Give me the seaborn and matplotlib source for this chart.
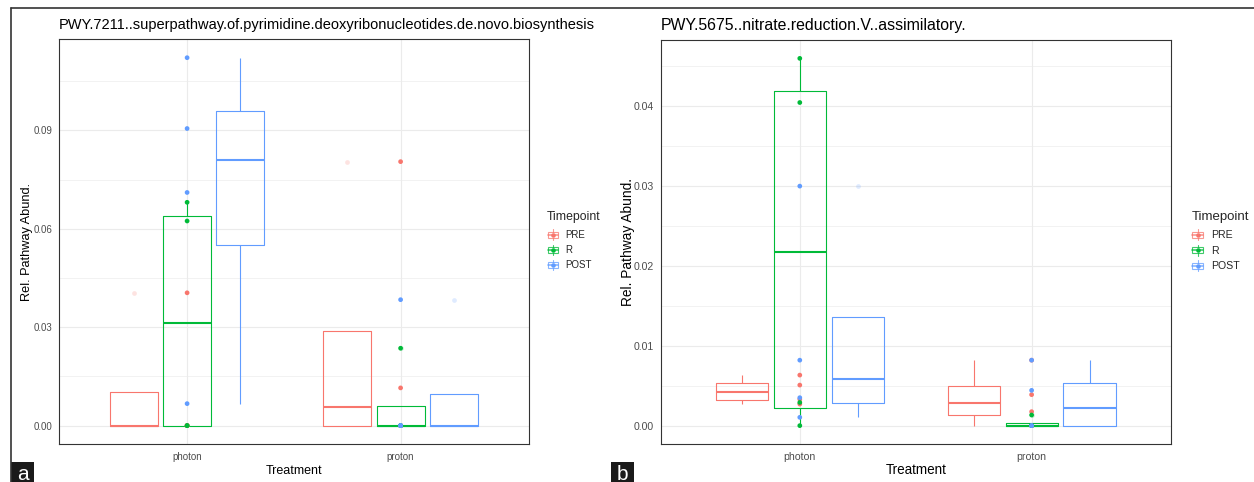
import numpy as np
import pandas as pd
import matplotlib
matplotlib.use("Agg")
import matplotlib.pyplot as plt
import seaborn as sns
from matplotlib.lines import Line2D
from matplotlib.patches import Rectangle
from matplotlib.legend_handler import HandlerBase
from matplotlib.ticker import MultipleLocator

# ---------------- data ----------------
treatments = ["photon", "proton"]
timepoints = ["PRE", "R", "POST"]
palette = ["#F8766D", "#00BA38", "#619CFF"]

title_a = "PWY.7211..superpathway.of.pyrimidine.deoxyribonucleotides.de.novo.biosynthesis"
a_photon_pre = [0.0, 0.0, 0.0, 0.0405]
a_photon_r = [0.0, 0.0, 0.0624, 0.0681]
a_photon_post = [0.0067, 0.0711, 0.0906, 0.1122]
a_proton_pre = [0.0, 0.0, 0.0115, 0.0805]
a_proton_r = [0.0, 0.0, 0.0, 0.0236]
a_proton_post = [0.0, 0.0, 0.0, 0.0384]
yticks_a = [0.00, 0.03, 0.06, 0.09]

title_b = "PWY.5675..nitrate.reduction.V..assimilatory."
b_photon_pre = [0.0027, 0.0033, 0.00508, 0.00633]
b_photon_r = [0.0, 0.0029, 0.04047, 0.0460]
b_photon_post = [0.00104, 0.0035, 0.0082, 0.0300]
b_proton_pre = [0.0, 0.00175, 0.00388, 0.0082]
b_proton_r = [0.0, 0.0, 0.0, 0.00133]
b_proton_post = [0.0, 0.0, 0.00442, 0.0082]
yticks_b = [0.00, 0.01, 0.02, 0.03, 0.04]

panel_letters = ["a", "b"]
x_label = "Treatment"
y_label = "Rel. Pathway Abund."
legend_title = "Timepoint"


def make_df(groups):
    rows = []
    for (trt, tp), vals in groups.items():
        for v in vals:
            rows.append({"Treatment": trt, "Timepoint": tp, "Abund": v})
    return pd.DataFrame(rows)


df_a = make_df({
    ("photon", "PRE"): a_photon_pre, ("photon", "R"): a_photon_r, ("photon", "POST"): a_photon_post,
    ("proton", "PRE"): a_proton_pre, ("proton", "R"): a_proton_r, ("proton", "POST"): a_proton_post,
})
df_b = make_df({
    ("photon", "PRE"): b_photon_pre, ("photon", "R"): b_photon_r, ("photon", "POST"): b_photon_post,
    ("proton", "PRE"): b_proton_pre, ("proton", "R"): b_proton_r, ("proton", "POST"): b_proton_post,
})

# ---------------- style ----------------
sns.set_style("white")
plt.rcParams["font.family"] = ["Liberation Sans", "DejaVu Sans"]

W, H = 1254, 482
fig = plt.figure(figsize=(W / 100, H / 100), dpi=100)


def fx(px):
    return px / W


def fy(py):
    return 1 - py / H


class BoxKey(HandlerBase):
    def create_artists(self, legend, orig_handle, xdescent, ydescent, width, height, fontsize, trans):
        c = orig_handle.get_color()
        x0, y0 = -xdescent, -ydescent
        cx = x0 + width / 2
        bw = width * 0.9
        bh = height * 0.56
        by = y0 + height * 0.22
        rect = Rectangle((cx - bw / 2, by), bw, bh, fill=False, edgecolor=c, lw=0.8,
                         alpha=0.75, transform=trans)
        wl = Line2D([cx, cx], [y0, by], color=c, lw=0.8, alpha=0.75, transform=trans)
        wu = Line2D([cx, cx], [by + bh, y0 + height], color=c, lw=0.8, alpha=0.75, transform=trans)
        med = Line2D([cx - bw / 2, cx + bw / 2], [y0 + height / 2] * 2, color=c, lw=1.2,
                     alpha=0.75, transform=trans)
        dot = Line2D([cx], [y0 + height / 2], marker="o", ms=3.3, color=c, ls="none",
                     markeredgewidth=0, transform=trans)
        return [rect, wl, wu, med, dot]


def draw_panel(rect_px, df, yticks, title, title_fs, legend_x, s, xlabel_top):
    left, top, right, bottom = rect_px
    ax = fig.add_axes([fx(left), fy(bottom), fx(right) - fx(left), (bottom - top) / H])
    sns.boxplot(data=df, x="Treatment", y="Abund", hue="Timepoint", order=treatments,
                hue_order=timepoints, palette=palette, fill=False, width=0.75, gap=0.1,
                showcaps=False, linewidth=0.8, whis=1.5,
                flierprops=dict(marker="o", markersize=3.4, alpha=0.2),
                medianprops=dict(linewidth=1.5), legend=False, ax=ax)
    for ln in ax.lines:
        if ln.get_marker() == "o":
            ln.set_markerfacecolor(ln.get_markeredgecolor())
            ln.set_markeredgewidth(0)
    sns.stripplot(data=df, x="Treatment", y="Abund", hue="Timepoint", order=treatments,
                  hue_order=timepoints, palette=palette, jitter=False, dodge=False,
                  size=3.4, linewidth=0, legend=False, ax=ax, zorder=4)
    ymax = df["Abund"].max()
    ymin = df["Abund"].min()
    span = ymax - ymin
    ax.set_ylim(ymin - 0.05 * span, ymax + 0.05 * span)
    ax.set_xlim(-0.6, 1.6)
    ax.set_yticks(yticks)
    ax.set_yticklabels([f"{t:.2f}" for t in yticks])
    step = yticks[1] - yticks[0]
    ax.yaxis.set_minor_locator(MultipleLocator(step / 2))
    ax.set_axisbelow(True)
    ax.grid(which="major", axis="both", color="#EBEBEB", lw=0.8)
    ax.grid(which="minor", axis="y", color="#EBEBEB", lw=0.45)
    ax.xaxis.grid(True, which="major", color="#EBEBEB", lw=0.8)
    ax.tick_params(which="minor", length=0)
    ax.tick_params(which="major", length=3.2, width=0.7, color="#333333",
                   labelsize=7.0 * s, labelcolor="#4D4D4D", pad=1.5)
    ax.tick_params(axis="x", pad=2.2)
    for sp in ax.spines.values():
        sp.set_visible(True)
        sp.set_color("#333333")
        sp.set_linewidth(0.8)
    ax.set_xlabel(x_label, fontsize=9.0 * s, color="black")
    ax.set_ylabel(y_label, fontsize=9.2 * s, color="black")
    wpx = right - left
    hpx = bottom - top
    ax.xaxis.set_label_coords(0.5, -(xlabel_top - bottom) / hpx)
    ax.yaxis.set_label_coords(-26 / wpx, 0.5)
    fig.text(fx(left), fy(25.5), title, ha="left", va="center", fontsize=title_fs, color="black")
    handles = [Line2D([], [], color=c) for c in palette]
    leg = ax.legend(handles=handles, labels=timepoints, handler_map={Line2D: BoxKey()},
                    title=legend_title, loc="upper left", bbox_to_anchor=(fx(legend_x), fy(211)),
                    bbox_transform=fig.transFigure, frameon=False, fontsize=7.0 * s,
                    title_fontsize=8.8 * s, handlelength=1.15, handleheight=1.3 / s,
                    handletextpad=0.75, labelspacing=0.48 / s,
                    borderpad=0, borderaxespad=0, alignment="left")
    leg._legend_box.sep = 4.5
    return ax


ax_a = draw_panel((59, 39.3, 528.7, 444), df_a, yticks_a, title_a, 10.52, 547, 1.0, 465)
ax_b = draw_panel((660.7, 40, 1170.7, 444), df_b, yticks_b, title_b, 11.48, 1191.5, 1.08, 463.5)

# outer frame
fig.add_artist(Line2D([fx(11), 1], [fy(8), fy(8)], transform=fig.transFigure,
                      color="#333333", lw=1.2))
fig.add_artist(Line2D([fx(11), fx(11)], [fy(8), 0], transform=fig.transFigure,
                      color="#333333", lw=1.2))

# panel letters
for letter, x0 in zip(panel_letters, [11, 611]):
    fig.add_artist(Rectangle((fx(x0), 0), 23 / W, 20 / H, transform=fig.transFigure,
                             facecolor="#1A1A1A", edgecolor="none"))
    fig.text(fx(x0 + 11.5), fy(474), letter, ha="center", va="center", fontsize=15,
             color="white")

fig.savefig("out.png", dpi=100)
